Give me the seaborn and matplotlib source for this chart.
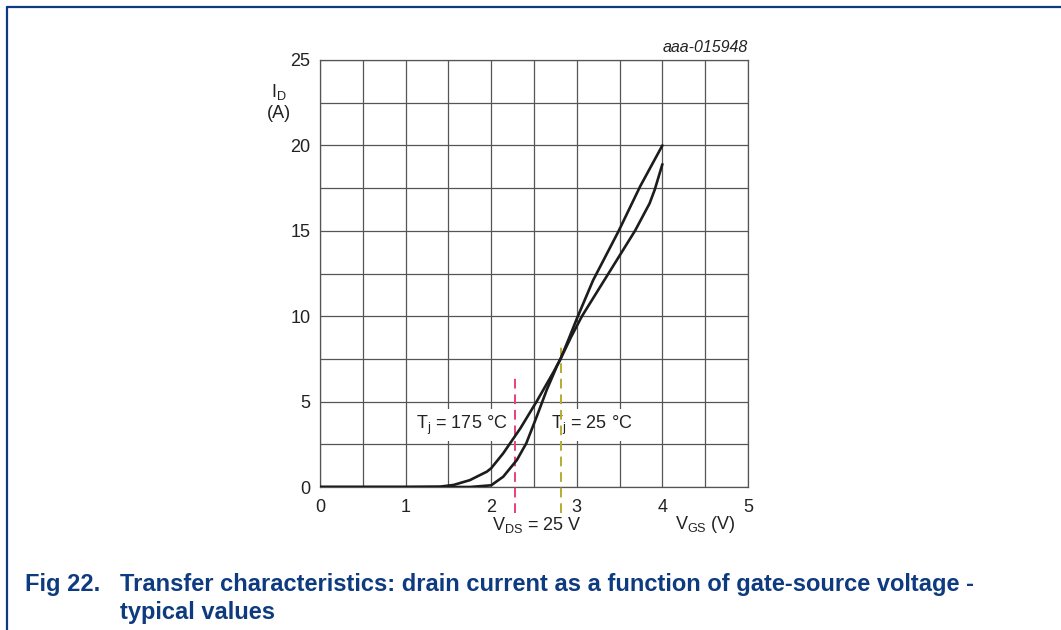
import matplotlib
matplotlib.use("Agg")
import matplotlib.pyplot as plt
from matplotlib.lines import Line2D
import numpy as np
import pandas as pd
import seaborn as sns

# Transfer characteristic, Tj = 175 °C
vgs_175 = [0.0, 0.5, 1.0, 1.4, 1.56, 1.75, 1.95, 2.0, 2.14, 2.34, 2.53, 2.73, 2.81,
           2.93, 3.06, 3.37, 3.68, 3.85, 3.91, 4.0]
id_175 = [0.0, 0.0, 0.0, 0.02, 0.12, 0.4, 0.9, 1.1, 1.97, 3.43, 5.0, 6.75, 7.5,
          8.75, 10.0, 12.5, 15.0, 16.6, 17.4, 18.9]

# Transfer characteristic, Tj = 25 °C
vgs_25 = [0.0, 0.5, 1.0, 1.5, 1.75, 2.0, 2.14, 2.3, 2.41, 2.53, 2.65, 2.77, 2.81,
          2.9, 3.0, 3.19, 3.49, 3.74, 4.0]
id_25 = [0.0, 0.0, 0.0, 0.0, 0.0, 0.1, 0.6, 1.58, 2.56, 4.1, 5.7, 7.1, 7.5,
         8.6, 9.85, 12.1, 15.0, 17.6, 20.0]

x_ticks = [0, 1, 2, 3, 4, 5]
y_ticks = [0, 5, 10, 15, 20, 25]

# dashed markers for VDS = 25 V
vgs_mark_175 = 2.28
vgs_mark_25 = 2.81
mark_top_175 = 6.4
mark_top_25 = 8.3
mark_bottom = -1.5

sns.set_theme(style="white")
plt.rcParams["font.family"] = ["Liberation Sans", "DejaVu Sans"]
plt.rcParams["mathtext.fontset"] = "custom"
plt.rcParams["mathtext.rm"] = "Liberation Sans"
plt.rcParams["mathtext.it"] = "Liberation Sans:italic"

W, H = 1061, 630
fig = plt.figure(figsize=(W / 100, H / 100), dpi=100)
fig.patch.set_facecolor("white")
ax = fig.add_axes([320 / W, 1 - 487 / H, 428 / W, 427 / H])
ax.set_facecolor("white")

df = pd.concat([
    pd.DataFrame({"VGS": vgs_175, "ID": id_175, "Tj": "175"}),
    pd.DataFrame({"VGS": vgs_25, "ID": id_25, "Tj": "25"}),
])
sns.lineplot(data=df, x="VGS", y="ID", units="Tj", estimator=None, sort=False,
             color="#1c1c1c", lw=1.9, ax=ax, zorder=5, legend=False)

ax.set_xlim(0, 5)
ax.set_ylim(0, 25)
ax.set_xticks(x_ticks)
ax.set_xticklabels([str(v) for v in x_ticks])
ax.set_yticks(y_ticks)
ax.set_yticklabels([str(v) for v in y_ticks])
ax.set_xticks(np.arange(0.5, 5, 1.0), minor=True)
ax.set_yticks(np.arange(2.5, 25, 5.0), minor=True)
ax.grid(True, which="both", color="#555555", lw=0.9, zorder=1)
ax.set_axisbelow(True)
ax.tick_params(axis="both", which="both", length=0, labelsize=13, colors="#222222")
ax.tick_params(axis="x", pad=9)
ax.tick_params(axis="y", pad=7)
for sp in ax.spines.values():
    sp.set_color("#555555")
    sp.set_linewidth(0.9)
ax.set_xlabel("")
ax.set_ylabel("")

# VDS markers
ax.plot([vgs_mark_175, vgs_mark_175], [mark_bottom, mark_top_175], color="#e8407a",
        lw=1.4, ls=(0, (5, 3)), clip_on=False, zorder=4)
ax.plot([vgs_mark_25, vgs_mark_25], [mark_bottom, mark_top_25], color="#b3ad35",
        lw=1.4, ls=(0, (5, 3)), clip_on=False, zorder=4)

box = dict(facecolor="white", edgecolor="none", pad=3)
ax.text(1.65, 3.63, r"T$_{\rm j}$ = 175 °C", fontsize=13, ha="center", va="center",
        color="#222222", bbox=box, zorder=3)
ax.text(3.17, 3.63, r"T$_{\rm j}$ = 25 °C", fontsize=13, ha="center", va="center",
        color="#222222", bbox=box, zorder=3)
ax.text(2.53, -2.25, r"V$_{\rm DS}$ = 25 V", fontsize=13, ha="center", va="center",
        color="#222222", clip_on=False)
ax.text(4.5, -2.2, r"V$_{\rm GS}$ (V)", fontsize=13, ha="center", va="center",
        color="#222222", clip_on=False)
ax.text(5.0, 25.75, "aaa-015948", fontsize=11.5, style="italic", ha="right",
        va="center", color="#222222", clip_on=False)

fig.text(279 / W, 1 - 92 / H, r"I$_{\rm D}$", fontsize=13, ha="center", va="center",
         color="#222222")
fig.text(279 / W, 1 - 113 / H, "(A)", fontsize=13, ha="center", va="center",
         color="#222222")

# frame
navy = "#0e3a80"
fig.add_artist(Line2D([7 / W, 1.0], [1 - 7 / H, 1 - 7 / H], color=navy, lw=1.6,
                      transform=fig.transFigure))
fig.add_artist(Line2D([7 / W, 7 / W], [0.0, 1 - 7 / H], color=navy, lw=1.6,
                      transform=fig.transFigure))

# caption
cap_size = 17
fig.text(25 / W, 1 - 591 / H, "Fig 22.", fontsize=cap_size, fontweight="bold",
         color=navy, ha="left", va="baseline")
fig.text(120 / W, 1 - 591 / H,
         "Transfer characteristics: drain current as a function of gate-source voltage -",
         fontsize=cap_size, fontweight="bold", color=navy, ha="left", va="baseline")
fig.text(120 / W, 1 - 619 / H, "typical values", fontsize=cap_size, fontweight="bold",
         color=navy, ha="left", va="baseline")

fig.savefig("out.png", dpi=100, facecolor="white")
